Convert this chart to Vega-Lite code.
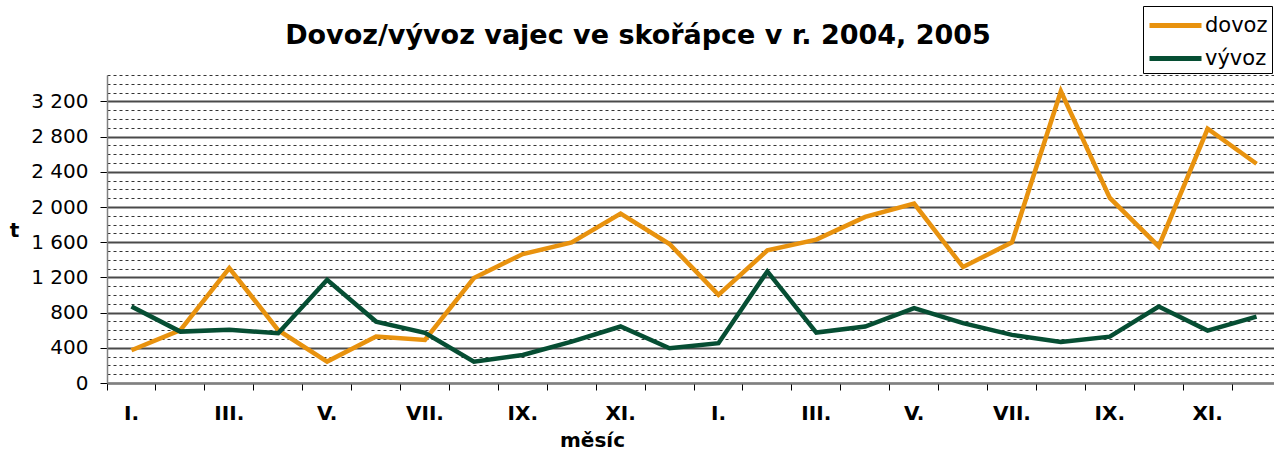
{
  "$schema": "https://vega.github.io/schema/vega-lite/v6.json",
  "autosize": {"type": "none"},
  "padding": {"left": 107, "top": 75, "right": 0, "bottom": 69},
  "width": 1174,
  "height": 308,
  "background": "white",
  "title": {
    "text": "Dovoz/vývoz vajec ve skořápce v r. 2004, 2005",
    "font": "DejaVu Sans",
    "fontSize": 27,
    "fontWeight": "bold",
    "color": "#000",
    "anchor": "middle",
    "frame": "group",
    "dx": -56,
    "offset": 0,
    "dy": 44
  },
  "config": {"view": {"stroke": null}},
  "data": {
    "values": [
      {"idx": 1, "series": "dovoz", "t": 372}, {"idx": 2, "series": "dovoz", "t": 600}, {"idx": 3, "series": "dovoz", "t": 1306},
      {"idx": 4, "series": "dovoz", "t": 600}, {"idx": 5, "series": "dovoz", "t": 243}, {"idx": 6, "series": "dovoz", "t": 528},
      {"idx": 7, "series": "dovoz", "t": 490}, {"idx": 8, "series": "dovoz", "t": 1192}, {"idx": 9, "series": "dovoz", "t": 1465},
      {"idx": 10, "series": "dovoz", "t": 1598}, {"idx": 11, "series": "dovoz", "t": 1925}, {"idx": 12, "series": "dovoz", "t": 1579},
      {"idx": 13, "series": "dovoz", "t": 1002}, {"idx": 14, "series": "dovoz", "t": 1507}, {"idx": 15, "series": "dovoz", "t": 1629},
      {"idx": 16, "series": "dovoz", "t": 1887}, {"idx": 17, "series": "dovoz", "t": 2039}, {"idx": 18, "series": "dovoz", "t": 1318},
      {"idx": 19, "series": "dovoz", "t": 1598}, {"idx": 20, "series": "dovoz", "t": 3315}, {"idx": 21, "series": "dovoz", "t": 2104},
      {"idx": 22, "series": "dovoz", "t": 1552}, {"idx": 23, "series": "dovoz", "t": 2889}, {"idx": 24, "series": "dovoz", "t": 2491},
      {"idx": 1, "series": "vývoz", "t": 869}, {"idx": 2, "series": "vývoz", "t": 584}, {"idx": 3, "series": "vývoz", "t": 604},
      {"idx": 4, "series": "vývoz", "t": 566}, {"idx": 5, "series": "vývoz", "t": 1173}, {"idx": 6, "series": "vývoz", "t": 698},
      {"idx": 7, "series": "vývoz", "t": 570}, {"idx": 8, "series": "vývoz", "t": 243}, {"idx": 9, "series": "vývoz", "t": 319},
      {"idx": 10, "series": "vývoz", "t": 471}, {"idx": 11, "series": "vývoz", "t": 642}, {"idx": 12, "series": "vývoz", "t": 395},
      {"idx": 13, "series": "vývoz", "t": 452}, {"idx": 14, "series": "vývoz", "t": 1268}, {"idx": 15, "series": "vývoz", "t": 573},
      {"idx": 16, "series": "vývoz", "t": 642}, {"idx": 17, "series": "vývoz", "t": 851}, {"idx": 18, "series": "vývoz", "t": 680},
      {"idx": 19, "series": "vývoz", "t": 547}, {"idx": 20, "series": "vývoz", "t": 465}, {"idx": 21, "series": "vývoz", "t": 527},
      {"idx": 22, "series": "vývoz", "t": 869}, {"idx": 23, "series": "vývoz", "t": 596}, {"idx": 24, "series": "vývoz", "t": 755}
    ]
  },
  "mark": {"type": "line", "strokeWidth": 4.5, "strokeJoin": "miter"},
  "encoding": {
    "x": {
      "field": "idx",
      "type": "ordinal",
      "bandPosition": 0.5,
      "scale": {"type": "band", "paddingInner": 0, "paddingOuter": 0},
      "axis": {
        "bandPosition": 0,
        "labelAngle": 0,
        "labelExpr": "['I.','','III.','','V.','','VII.','','IX.','','XI.',''][(datum.value - 1) % 12]",
        "labelFont": "DejaVu Sans",
        "labelFontSize": 20,
        "labelFontWeight": "bold",
        "labelColor": "#000",
        "labelPadding": 13,
        "labelBaseline": "top",
        "tickSize": 7,
        "tickColor": "#000",
        "tickWidth": 1,
        "domainColor": "#808080",
        "domainWidth": 2,
        "grid": false,
        "title": "měsíc",
        "titleFont": "DejaVu Sans",
        "titleFontSize": 20,
        "titleFontWeight": "bold",
        "titleColor": "#000",
        "titleX": 485,
        "titleY": 57,
        "titleAlign": "center",
        "titleBaseline": "middle"
      }
    },
    "y": {
      "field": "t",
      "type": "quantitative",
      "scale": {"domain": [0, 3500], "nice": false, "zero": true},
      "axis": {
        "values": [0, 100, 200, 300, 400, 500, 600, 700, 800, 900, 1000, 1100, 1200, 1300, 1400, 1500, 1600, 1700, 1800, 1900, 2000, 2100, 2200, 2300, 2400, 2500, 2600, 2700, 2800, 2900, 3000, 3100, 3200, 3300, 3400, 3500],
        "labelExpr": "datum.value % 400 === 0 ? replace(format(datum.value, ','), ',', ' ') : ''",
        "labelFont": "DejaVu Sans",
        "labelFontSize": 20,
        "labelColor": "#000",
        "labelPadding": 12,
        "grid": true,
        "gridColor": {"condition": {"test": "datum.value % 400 === 0", "value": "#4a4a4a"}, "value": "#333333"},
        "gridDash": {"condition": {"test": "datum.value % 400 === 0", "value": []}, "value": [3, 3]},
        "gridWidth": {"condition": {"test": "datum.value % 400 === 0", "value": 1.8}, "value": 1},
        "tickSize": 7,
        "tickColor": "#000",
        "tickOpacity": {"condition": {"test": "datum.value % 400 === 0", "value": 1}, "value": 0},
        "domainColor": "#808080",
        "domainWidth": 1.5,
        "title": "t",
        "titleFont": "DejaVu Sans",
        "titleFontSize": 20,
        "titleFontWeight": "bold",
        "titleColor": "#000",
        "titleAngle": 0,
        "titleX": -93,
        "titleY": 155,
        "titleAlign": "center",
        "titleBaseline": "middle"
      }
    },
    "color": {
      "field": "series",
      "type": "nominal",
      "scale": {"domain": ["dovoz", "vývoz"], "range": ["#E8920E", "#064E33"]},
      "legend": {
        "title": null,
        "orient": "none",
        "legendX": 1036,
        "legendY": -69,
        "strokeColor": "#000",
        "fillColor": "white",
        "padding": 4,
        "symbolType": "M-2,0H2",
        "symbolSize": 676,
        "symbolOffset": 13,
        "symbolStrokeWidth": 5,
        "rowPadding": 7,
        "labelFont": "DejaVu Sans",
        "labelFontSize": 21,
        "labelColor": "#000",
        "labelOffset": 14
      }
    }
  }
}
